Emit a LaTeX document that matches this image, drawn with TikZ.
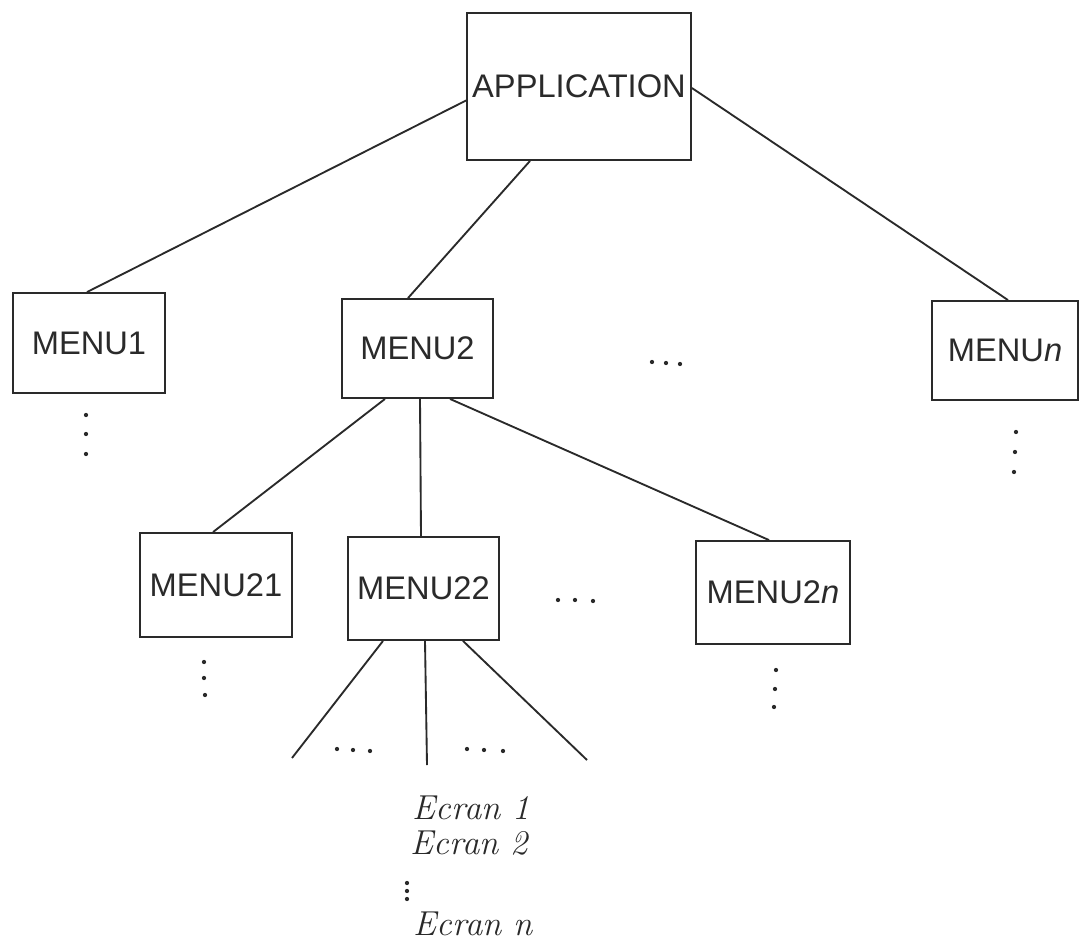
\documentclass[tikz,border=0pt]{standalone}
\usepackage{fontspec}
\setsansfont{Liberation Sans}
\usetikzlibrary{calc}
\definecolor{ink}{HTML}{2A2A2A}
\begin{document}
\begin{tikzpicture}[x=0.75pt,y=-0.75pt,
  line width=1.4pt, draw=ink,
  box/.style={draw=ink, line width=1.4pt, inner sep=0pt, text=ink,
    font=\sffamily\fontsize{24.5}{28}\selectfont},
  ecran/.style={anchor=west, inner sep=0pt, text=ink,
    font=\itshape\fontsize{26}{30}\selectfont},
  dot/.style={fill=ink, draw=none}]
\useasboundingbox (0,0) rectangle (1079,943);

% boxes
\node[box, minimum width=224*0.75pt, minimum height=147*0.75pt] (app) at (579,86.5) {APPLICATION};
\node[box, minimum width=152*0.75pt, minimum height=100*0.75pt] (m1) at (89,343) {MENU1};
\node[box, minimum width=151*0.75pt, minimum height=99*0.75pt] (m2) at (417.5,348.5) {MENU2};
\node[box, minimum width=146*0.75pt, minimum height=99*0.75pt] (mn) at (1005,350.5) {MENU\textit{n}};
\node[box, minimum width=152*0.75pt, minimum height=104*0.75pt] (m21) at (216,585) {MENU21};
\node[box, minimum width=151*0.75pt, minimum height=103*0.75pt] (m22) at (423.5,588.5) {MENU22};
\node[box, minimum width=154*0.75pt, minimum height=103*0.75pt] (m2n) at (773,592.5) {MENU2\textit{n}};

% free ends of the lines under MENU22
\coordinate (l1) at (292,758);
\coordinate (l2) at (427,765);
\coordinate (l3) at (587,760);

% connectors
\draw ([shift={(0,14)}]app.west) -- ([shift={(-2,0)}]m1.north);
\draw ([shift={(-49,0)}]app.south) -- ([shift={(-9.5,0)}]m2.north);
\draw ([shift={(0,1.5)}]app.east) -- ([shift={(3,0)}]mn.north);
\draw ([shift={(-32.5,0)}]m2.south) -- ([shift={(-3,0)}]m21.north);
\draw ([shift={(2.5,0)}]m2.south) -- ([shift={(-2.5,0)}]m22.north);
\draw ([shift={(32.5,0)}]m2.south) -- ([shift={(-4,0)}]m2n.north);
\draw ([shift={(-40.5,0)}]m22.south) -- (l1);
\draw ([shift={(1.5,0)}]m22.south) -- (l2);
\draw ([shift={(39.5,0)}]m22.south) -- (l3);

% vertical dots
\foreach \x/\y in {86/415, 86/434, 86/454,
                   1016/432, 1015/452, 1014/472,
                   204/662, 204/678, 205/695,
                   776/670, 775/689, 774/707,
                   407/883, 407/891, 407/899}
  \fill[dot] (\x,\y) circle (1.6pt);
% horizontal dots
\foreach \x/\y in {652/362, 666/363, 680/364,
                   558/600, 575/600, 593/601,
                   337/749, 353/750, 370/751,
                   467/749, 484/750, 503/751}
  \fill[dot] (\x,\y) circle (1.6pt);

% screens
\node[ecran] (e1) at (412,808) {Ecran 1};
\node[ecran] (e2) at (410,843) {Ecran 2};
\node[ecran] (en) at (413,924) {Ecran \textit{n}};
\end{tikzpicture}
\end{document}
